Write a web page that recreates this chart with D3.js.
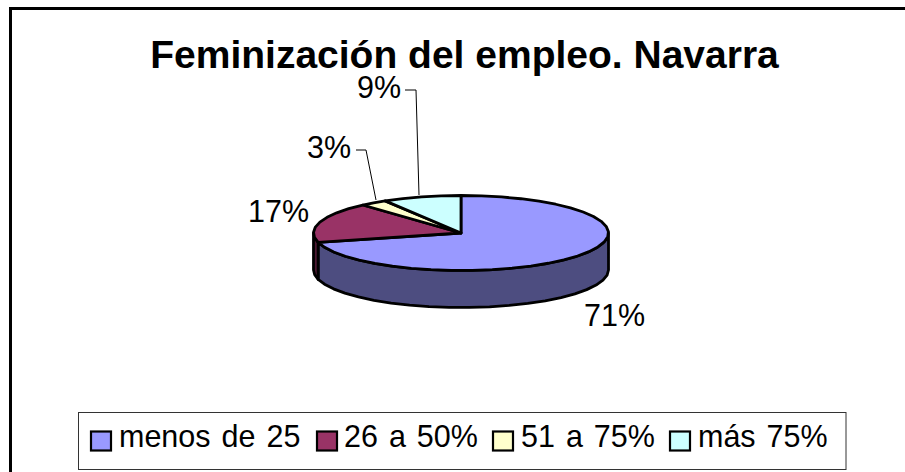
<!DOCTYPE html>
<html><head><meta charset="utf-8">
<script src="https://cdn.jsdelivr.net/npm/d3@7"></script>
<style>html,body{margin:0;background:#fff}svg{display:block}text{font-family:"Liberation Sans",Arial,sans-serif;fill:#000}</style>
</head><body><svg id="c" width="905" height="472"></svg>
<script>
const categories=["menos de 25","26 a 50%","51 a 75%","más 75%"];
const values=[71,17.4,3,8.6];
const colors=["#9999ff","#993366","#ffffcc","#ccffff"];
const sideColors=["#4d4d80","#4d1a33","#808066","#668080"];
const titleText="Feminización del empleo. Navarra";

const cx=461,cy=233,rx=147.5,ry=37.5,depth=37,sw=2.8,step=8;
const svg=d3.select("#c");
svg.append("path").attr("d","M10.5,480V8.5H915").attr("fill","none").attr("stroke","#000").attr("stroke-width",3);
svg.append("text").attr("x",464.5).attr("y",68).attr("text-anchor","middle").attr("font-size",39).attr("font-weight","bold").text(titleText);

const pie=d3.pie().sort(null)(values);
const X=d3.scaleLinear().domain([-1,1]).range([cx-rx,cx+rx]);
const Y=d3.scaleLinear().domain([-1,1]).range([cy-ry,cy+ry]);
const pt=a=>[X(Math.sin(a)),Y(-Math.cos(a))];
const line=d3.line();
const deg=Math.PI/180;
const arcPts=(a0,a1)=>{const n=Math.ceil((a1-a0)/(step*deg));return d3.range(n+1).map(k=>pt(a0+(a1-a0)*k/n));};
const face=(sel,d,fill)=>sel.append("path").attr("d",d).attr("fill",fill).attr("stroke","#000").attr("stroke-width",sw).attr("stroke-linejoin","round");

// side walls: visible only on the front half (90° to 270° clockwise from top)
pie.forEach((d,i)=>{
  const a0=Math.max(d.startAngle,90*deg),a1=Math.min(d.endAngle,270*deg);
  if(a1<=a0) return;
  const arc=arcPts(a0,a1);
  face(svg,line(arc.concat(arc.slice().reverse().map(p=>[p[0],p[1]+depth])))+"Z",sideColors[i]);
});
// top faces
pie.forEach((d,i)=>face(svg,line([[cx,cy],...arcPts(d.startAngle,d.endAngle)])+"Z",colors[i]));

// data labels, placed relative to the pie centre
const lab=[{dx:123,dy:93},{dx:-213,dy:-11},{dx:-154,dy:-75},{dx:-104,dy:-135}];
lab.forEach((l,i)=>svg.append("text").attr("x",cx+l.dx).attr("y",cy+l.dy).attr("font-size",30.5).text(Math.round(values[i])+"%"));
// leader lines
const leaders=[[[-56,-143],[-45,-143],[-42,-38]],[[-105,-83],[-95,-83],[-85,-33]]];
leaders.forEach(p=>svg.append("path").attr("d",line(p.map(q=>[cx+q[0],cy+q[1]]))).attr("fill","none").attr("stroke","#000").attr("stroke-width",1));

// legend
const lg=svg.append("g");
lg.append("rect").attr("x",78.5).attr("y",412.5).attr("width",767.5).attr("height",57).attr("fill","#fff").attr("stroke","#333").attr("stroke-width",1);
const swX=[91,317,493,670],txX=[119,344,521,698];
categories.forEach((c,i)=>{
  lg.append("rect").attr("x",swX[i]).attr("y",431.5).attr("width",20).attr("height",19).attr("fill",colors[i]).attr("stroke","#000").attr("stroke-width",2.2);
  lg.append("text").attr("x",txX[i]).attr("y",447).attr("font-size",30.5).attr("word-spacing",2.5).text(c);
});
</script></body></html>
